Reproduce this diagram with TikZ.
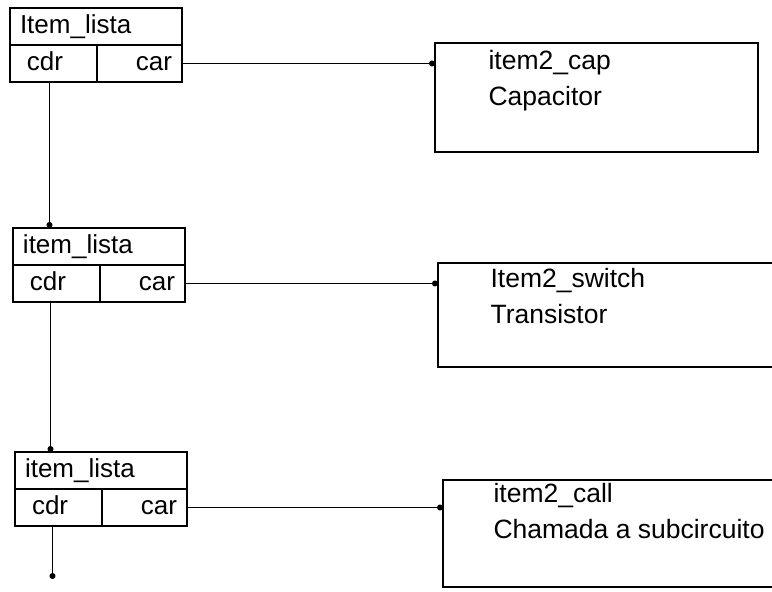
\documentclass[tikz,border=0pt]{standalone}
\usepackage{fontspec}
\setmainfont{Liberation Sans}
\usetikzlibrary{arrows.meta, positioning}
\tikzset{
  cell/.style={draw, anchor=north west, outer sep=0pt, inner xsep=0pt, inner ysep=0pt,
    minimum height=37pt, text height=19pt, text depth=5pt, font=\fontsize{26}{30}\selectfont},
  titlecell/.style={cell, minimum width=172pt, text width=152pt, align=left},
  cdrcell/.style={cell, minimum width=87pt, text width=53pt, align=left},
  carcell/.style={cell, minimum width=85pt, text width=65pt, align=right},
  recbox/.style={draw, anchor=north west, outer sep=0pt, inner sep=0pt, minimum width=#1},
  rectext/.style={inner sep=0pt, align=left, font=\fontsize{26.5}{36}\selectfont}
}

\begin{document}
\begin{tikzpicture}[x=1pt, y=-1pt, line width=1.1pt, >={Circle[length=6pt]}]
        \useasboundingbox (0,0) rectangle (772,592);
        \clip (0,0) rectangle (772,592);

        % Nodes
        \node[titlecell] (t1) at (10,8) {Item\_lista};
        \node[cdrcell, below right=0pt and 0pt of t1.south west] (cdr1) {cdr};
        \node[carcell, right=0pt of cdr1] (car1) {car};

        \node[titlecell] (t2) at (13,228) {item\_lista};
        \node[cdrcell, below right=0pt and 0pt of t2.south west] (cdr2) {cdr};
        \node[carcell, right=0pt of cdr2] (car2) {car};

        \node[titlecell] (t3) at (15,452) {item\_lista};
        \node[cdrcell, below right=0pt and 0pt of t3.south west] (cdr3) {cdr};
        \node[carcell, right=0pt of cdr3] (car3) {car};

        \node[recbox=323pt, minimum height=109pt] (r1) at (435,43) {};
        \node[rectext, below right=7pt and 53pt of r1.north west] (tx1) {item2\_cap\\Capacitor};
        \node[recbox=360pt, minimum height=104pt] (r2) at (438,263) {};
        \node[rectext, below right=5pt and 52pt of r2.north west] (tx2) {Item2\_switch\\Transistor};
        \node[recbox=360pt, minimum height=107pt] (r3) at (443,480) {};
        \node[rectext, below right=3pt and 50pt of r3.north west] (tx3) {item2\_call\\Chamada a subcircuito};

        \coordinate (fim) at ([xshift=-6pt, yshift=-53pt]cdr3.south);

        % Pointers
        \draw[->] (car1) -- (car1 -| r1.west);
        \draw[->] (car2) -- (car2 -| r2.west);
        \draw[->] (car3) -- (car3 -| r3.west);
        \draw[->] ([xshift=-4pt]cdr1.south) -- ([xshift=-4pt]cdr1.south |- t2.north);
        \draw[->] ([xshift=-6pt]cdr2.south) -- ([xshift=-6pt]cdr2.south |- t3.north);
        \draw[->] (cdr3.south -| fim) -- (fim);
    \end{tikzpicture}
\end{document}
